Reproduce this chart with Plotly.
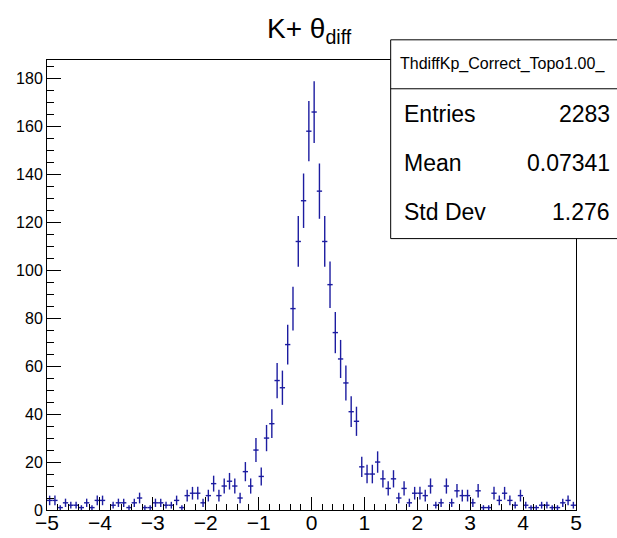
import numpy as np
import plotly.graph_objects as go

# Histogram: 100 bins from -5 to 5
x_min, x_max, n_bins = -5.0, 5.0, 100
counts = [4, 4, 1, 3, 2, 2, 1, 3, 1, 4,
          4, 0, 2, 3, 3, 1, 3, 5, 1, 1,
          3, 3, 2, 2, 4, 1, 6, 7, 7, 3,
          6, 11, 6, 10, 12, 10, 5, 16, 10, 25,
          14, 30, 36, 54, 51, 69, 84, 112, 129, 158,
          166, 133, 112, 94, 74, 63, 53, 41, 37, 18,
          15, 15, 20, 13, 9, 13, 5, 9, 3, 7,
          7, 6, 10, 2, 3, 10, 3, 8, 6, 6,
          3, 8, 1, 1, 7, 4, 7, 4, 2, 6,
          2, 1, 1, 2, 2, 1, 1, 3, 4, 2]
stats_labels = ["Entries", "Mean", "Std Dev"]
stats_values = ["2283", "0.07341", "1.276"]
hist_name = "ThdiffKp_Correct_Topo1.00_"
x_ticks = [-5, -4, -3, -2, -1, 0, 1, 2, 3, 4, 5]
y_ticks = [0, 20, 40, 60, 80, 100, 120, 140, 160, 180]

edges = np.linspace(x_min, x_max, n_bins + 1)
centers = 0.5 * (edges[:-1] + edges[1:])
half_w = 0.5 * (edges[1] - edges[0])
c = np.array(counts, dtype=float)
y = [v if v > 0 else None for v in c]
err = np.sqrt(c)

COL = "#1c1ca0"
fig = go.Figure()
fig.add_trace(go.Scatter(
    x=centers, y=y, mode="markers",
    marker=dict(size=1, color=COL),
    error_y=dict(type="data", array=err, visible=True, color=COL, thickness=1.4, width=0),
    error_x=dict(type="constant", value=half_w, visible=True, color=COL, thickness=1.4, width=0),
    showlegend=False, cliponaxis=True,
))

W, H = 617, 538
L, R, T, B = 47, 40.5, 59.5, 28
pw = W - L - R
ph = H - T - B

def px(xp):
    return (xp - L) / pw

def py(yp):
    return (H - B - yp) / ph

font = "Liberation Sans, Arial, Helvetica, sans-serif"

fig.update_layout(
    width=W, height=H,
    margin=dict(l=L, r=R, t=T, b=B),
    paper_bgcolor="white", plot_bgcolor="white",
    font=dict(family=font, color="black"),
    xaxis=dict(range=[x_min, x_max], showgrid=False, zeroline=False, automargin=False,
               showline=True, linecolor="black", linewidth=1, mirror=True,
               ticks="inside", ticklen=13, tickcolor="black", tickwidth=1,
               tickvals=x_ticks, tickfont=dict(size=21), ticklabelstandoff=-6,
               minor=dict(ticks="inside", ticklen=6.5, dtick=0.2, tickcolor="black", tickwidth=1, showgrid=False)),
    yaxis=dict(range=[0, 187.7], showgrid=False, zeroline=False, automargin=False,
               showline=True, linecolor="black", linewidth=1, mirror=True,
               ticks="inside", ticklen=14, tickcolor="black", tickwidth=1,
               tickvals=y_ticks, tickfont=dict(size=16),
               minor=dict(ticks="inside", ticklen=7, dtick=5, tickcolor="black", tickwidth=1, showgrid=False)),
)

# Title
fig.add_annotation(text="K+ θ<sub>diff</sub>", xref="paper", yref="paper",
                   x=px(310), y=py(30), xanchor="center", yanchor="middle",
                   showarrow=False, font=dict(size=28, family=font, color="black"))

# Stats box
fig.add_shape(type="rect", xref="paper", yref="paper",
              x0=px(391), x1=px(640), y0=py(238.3), y1=py(39.3),
              line=dict(color="black", width=1), fillcolor="white", layer="above")
fig.add_shape(type="line", xref="paper", yref="paper",
              x0=px(391), x1=px(640), y0=py(88.3), y1=py(88.3),
              line=dict(color="black", width=1), layer="above")
fig.add_annotation(text=hist_name, xref="paper", yref="paper",
                   x=px(398), y=py(64), xanchor="left", yanchor="middle",
                   showarrow=False, font=dict(size=16, family=font, color="black"))
row_y = [114, 163, 212]
for lab, val, ry in zip(stats_labels, stats_values, row_y):
    fig.add_annotation(text=lab, xref="paper", yref="paper",
                       x=px(402), y=py(ry), xanchor="left", yanchor="middle",
                       showarrow=False, font=dict(size=23, family=font, color="black"))
    fig.add_annotation(text=val, xref="paper", yref="paper",
                       x=px(613), y=py(ry), xanchor="right", yanchor="middle",
                       showarrow=False, font=dict(size=23, family=font, color="black"))

fig.write_html("out.html")
